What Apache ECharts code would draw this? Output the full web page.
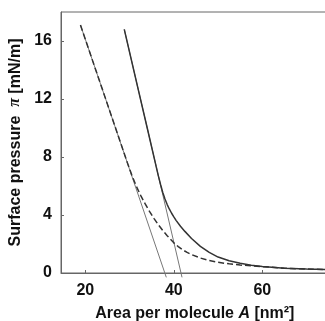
<!DOCTYPE html>
<html><head><meta charset="utf-8">
<script src="https://cdn.jsdelivr.net/npm/echarts@6/dist/echarts.min.js"></script>
<style>html,body{margin:0;padding:0;background:#fff}#c{width:325px;height:321px}</style>
</head><body><div id="c"></div>
<script>
var xTicks = [20, 40, 60];
var yTicks = [0, 4, 8, 12, 16];
var solidX = [28.8, 32.0, 34.0, 36.0, 36.5, 37.0, 37.5, 38.0, 38.5, 39.0, 39.5, 40.0, 40.5, 41.5, 42.5, 44.0, 46.0, 48.0, 50.0, 52.5, 55.0, 57.5, 60.0, 65.0, 70.0, 75.0];
var solidY = [16.8, 12.6, 9.98, 7.35, 6.7, 6.1, 5.55, 5.1, 4.72, 4.4, 4.12, 3.87, 3.63, 3.22, 2.87, 2.38, 1.84, 1.42, 1.1, 0.84, 0.67, 0.54, 0.45, 0.33, 0.27, 0.23];
var dashedX = [18.9, 22.0, 25.0, 28.0, 29.5, 30.5, 31.5, 32.5, 33.5, 34.5, 35.5, 36.5, 37.5, 38.5, 40.0, 41.0, 42.0, 43.0, 44.0, 46.0, 48.0, 50.0, 52.5, 55.0, 60.0, 65.0, 70.0, 75.0];
var dashedY = [17.1, 14.32, 11.64, 8.95, 7.6, 6.75, 6.0, 5.35, 4.78, 4.25, 3.77, 3.33, 2.93, 2.57, 2.08, 1.82, 1.6, 1.42, 1.27, 1.03, 0.86, 0.74, 0.63, 0.55, 0.44, 0.33, 0.27, 0.23];
var tangent1X = [18.9, 38.3];
var tangent1Y = [17.1, -0.3];
var tangent2X = [28.8, 41.85];
var tangent2Y = [16.8, -0.3];

function pairs(xs, ys){ return xs.map(function(x,i){return [x, ys[i]];}); }

var chart = echarts.init(document.getElementById('c'));
var axisCol = '#666';
var font = 'Liberation Sans, Arial, sans-serif';
chart.setOption({
  animation: false,
  grid: {left: 61, top: 12, bottom: 48, right: -3.7, show: true, borderColor: axisCol, borderWidth: 1,
    containLabel: false, outerBoundsMode: 'none'},
  xAxis: {
    type: 'value', min: 14.5, max: 75,
    axisLine: {show: true, lineStyle: {color: axisCol}},
    axisTick: {show: true, inside: true, length: 3, lineStyle: {color: axisCol}, customValues: xTicks},
    axisLabel: {customValues: xTicks, color: '#111', fontSize: 16, fontWeight: 'bold', fontFamily: font, margin: 10},
    splitLine: {show: false},
    name: 'Area per molecule {i|A} [nm²]',
    nameLocation: 'middle', nameGap: 33,
    nameTextStyle: {color: '#111', fontSize: 16, fontWeight: 'bold', fontFamily: font,
      rich: {i: {fontStyle: 'italic', fontWeight: 'bold', fontSize: 16, fontFamily: font, color: '#111'}}}
  },
  yAxis: {
    type: 'value', min: 0, max: 18,
    axisLine: {show: true, lineStyle: {color: axisCol}},
    axisTick: {show: true, inside: true, length: 3, lineStyle: {color: axisCol}, customValues: yTicks},
    axisLabel: {customValues: yTicks, color: '#111', fontSize: 16, fontWeight: 'bold', fontFamily: font, margin: 9},
    splitLine: {show: false},
    name: 'Surface pressure  {pi|π} [mN/m]',
    nameLocation: 'middle', nameGap: 29,
    nameTextStyle: {color: '#111', fontSize: 16, fontWeight: 'bold', fontFamily: font,
      rich: {pi: {fontStyle: 'italic', fontFamily: 'Liberation Serif, serif', fontSize: 16, color: '#111'}}}
  },
  series: [
    {type: 'line', data: pairs(tangent1X, tangent1Y), showSymbol: false, clip: false,
      lineStyle: {color: '#777', width: 1}},
    {type: 'line', data: pairs(tangent2X, tangent2Y), showSymbol: false, clip: false,
      lineStyle: {color: '#777', width: 1}},
    {type: 'line', data: pairs(dashedX, dashedY), showSymbol: false, smooth: false,
      lineStyle: {color: '#333', width: 1.5, type: [6, 3]}},
    {type: 'line', data: pairs(solidX, solidY), showSymbol: false, smooth: false,
      lineStyle: {color: '#333', width: 1.5}}
  ]
});
</script></body></html>
